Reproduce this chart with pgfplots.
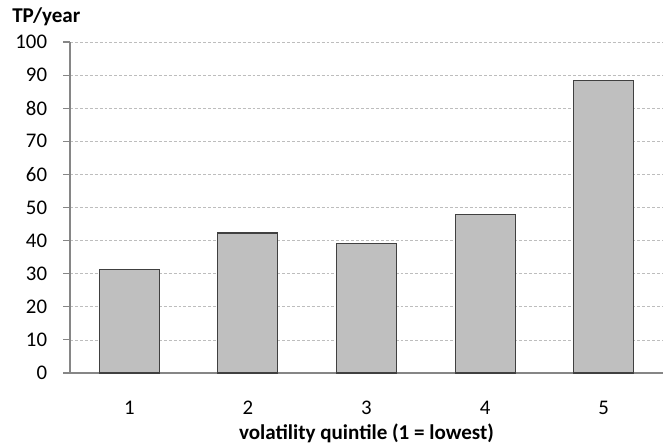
\documentclass[border=0pt]{standalone}
\usepackage{pgfplots}
\pgfplotsset{compat=1.18}
\usepackage{fontspec}
\setmainfont{Carlito}
\definecolor{barfill}{HTML}{BFBFBF}
\definecolor{baredge}{HTML}{404040}
\definecolor{axgray}{HTML}{868686}
\definecolor{gridgray}{HTML}{BDBDBD}
\begin{document}
\begin{tikzpicture}
\begin{axis}[
  scale only axis,
  width=444.75pt, height=248.25pt,
  xmin=0.5, xmax=5.5, ymin=0, ymax=100,
  ytick={0,10,...,100},
  xtick={1,2,3,4,5},
  axis x line*=bottom, axis y line*=left,
  axis line style={axgray, line width=0.8pt, -},
  ymajorgrids,
  grid style={gridgray, dash pattern=on 2.2pt off 1.5pt, line width=0.6pt},
  major tick length=5pt,
  ytick style={axgray, line width=0.8pt},
  xtick style={draw=none},
  tick align=outside,
  ticklabel style={font=\fontsize{15.6}{18}\selectfont},
  /pgf/number format/assume math mode=true,
  yticklabel style={anchor=east, inner sep=0pt, xshift=-12pt},
  xticklabel style={anchor=base, inner sep=0pt, yshift=-26.3pt},
  xlabel={volatility quintile (1 = lowest)},
  xlabel style={font=\fontsize{15.8}{18}\selectfont\bfseries, at={(axis description cs:0.5,0)}, anchor=base, inner sep=0pt, yshift=-50.2pt},
  clip=false,
]
\addplot[ybar, bar width=45pt, fill=barfill, draw=baredge, line width=0.8pt]
  coordinates {(1,31.3) (2,42.3) (3,39.0) (4,47.8) (5,88.4)};
\node[anchor=base west, inner sep=0pt, font=\fontsize{15.8}{18}\selectfont\bfseries]
  at (rel axis cs:0,1) [xshift=-43.5pt, yshift=15pt] {TP/year};
\coordinate (ll) at (rel axis cs:0,0);
\end{axis}
\pgfresetboundingbox
\path (ll) ++(-52.5pt,-53.25pt) rectangle ++(498.75pt,333pt);
\end{tikzpicture}
\end{document}
